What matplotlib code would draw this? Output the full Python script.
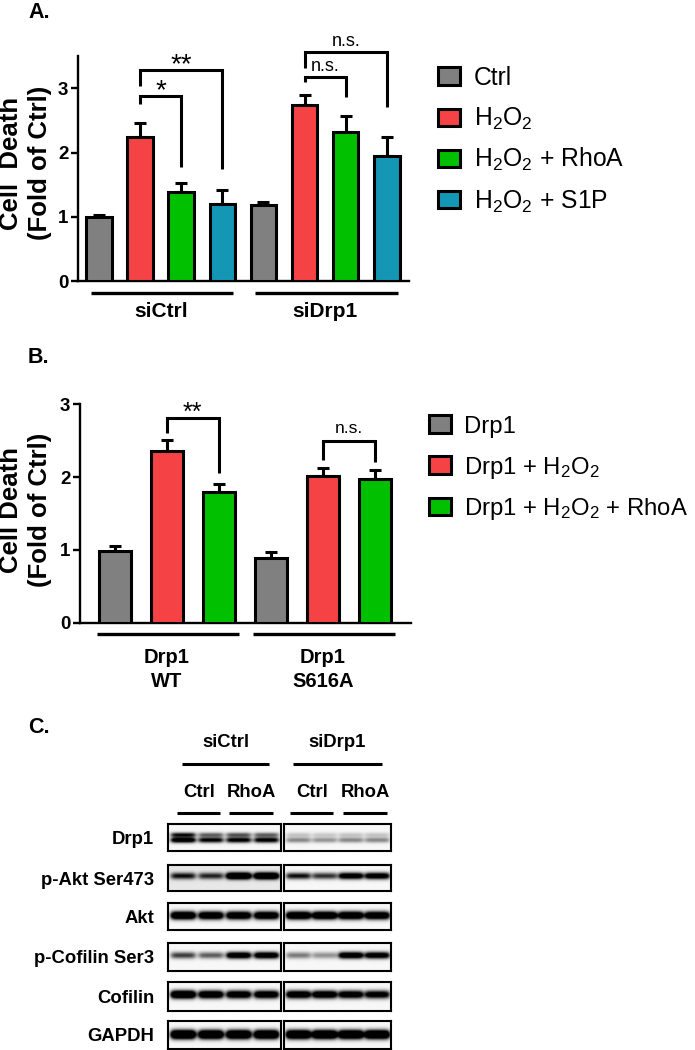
import numpy as np
import matplotlib
matplotlib.use('Agg')
import matplotlib.pyplot as plt
from matplotlib.patches import Rectangle
from matplotlib.transforms import blended_transform_factory

plt.rcParams['font.family'] = ['Liberation Sans', 'DejaVu Sans']
plt.rcParams['mathtext.default'] = 'regular'

# ---------------- data ----------------
a_conditions = ['Ctrl', 'H$_2$O$_2$', 'H$_2$O$_2$ + RhoA', 'H$_2$O$_2$ + S1P']
a_groups = ['siCtrl', 'siDrp1']
a_means = [[0.99, 2.24, 1.39, 1.20], [1.18, 2.74, 2.32, 1.94]]
a_sem = [[0.04, 0.22, 0.14, 0.21], [0.05, 0.16, 0.25, 0.30]]
# (bar i, bar j, bracket top, left leg end, right leg end, label)
a_brackets = [(1, 2, 2.88, 2.76, 1.77, '*'),
              (1, 3, 3.29, 3.04, 1.75, '**'),
              (5, 6, 3.17, 3.10, 2.87, 'n.s.'),
              (5, 7, 3.56, 3.31, 2.71, 'n.s.')]

b_conditions = ['Drp1', 'Drp1 + H$_2$O$_2$', 'Drp1 + H$_2$O$_2$ + RhoA']
b_groups = [('Drp1', 'WT'), ('Drp1', 'S616A')]
b_means = [[0.99, 2.36, 1.79], [0.89, 2.02, 1.98]]
b_sem = [[0.07, 0.15, 0.12], [0.08, 0.11, 0.12]]
b_brackets = [(1, 2, 2.81, 2.60, 2.06, '**'),
              (4, 5, 2.49, 2.23, 2.21, 'n.s.')]

yticks = [0, 1, 2, 3]

c_groups = ['siCtrl', 'siDrp1']
c_treatments = ['Ctrl', 'RhoA', 'Ctrl', 'RhoA']
c_rows = ['Drp1', 'p-Akt Ser473', 'Akt', 'p-Cofilin Ser3', 'Cofilin', 'GAPDH']
# band intensities, 8 lanes (4 siCtrl, 4 siDrp1)
band_drp1_lower = [1.30, 1.05, 1.10, 1.10, 0.45, 0.40, 0.45, 0.45]
band_drp1_upper = [0.95, 0.60, 0.65, 0.60, 0.20, 0.18, 0.20, 0.20]
band_pakt = [0.90, 0.80, 1.80, 1.80, 0.95, 0.80, 1.30, 1.30]
band_akt = [1.70, 1.55, 1.55, 1.55, 1.65, 1.65, 1.60, 1.55]
band_pcof = [0.75, 0.62, 1.40, 1.40, 0.50, 0.40, 1.40, 1.30]
band_cof = [1.80, 1.55, 1.45, 1.45, 1.45, 1.45, 1.35, 1.25]
band_gapdh = [2.00, 1.90, 1.90, 1.90, 1.90, 1.90, 1.90, 1.90]

colors = ['#808080', '#F44245', '#00C000', '#1397B5']

# ---------------- figure ----------------
W, H = 695, 1050
fig = plt.figure(figsize=(W / 100, H / 100), dpi=100)


def px_axes(left, top, right, bottom, **kw):
    return fig.add_axes([left / W, 1 - bottom / H, (right - left) / W, (bottom - top) / H], **kw)


ov = px_axes(0, 0, W, H)
ov.set_xlim(0, W)
ov.set_ylim(H, 0)
ov.axis('off')

LW = 2.2


def bar_panel(ax, means, sems, ncol, brackets, xlim, ylim, star_fs, ns_fs, ns_off):
    vals = [v for g in means for v in g]
    errs = [v for g in sems for v in g]
    cols = [colors[k % ncol] for k in range(len(vals))]
    x = np.arange(len(vals))
    ax.errorbar(x, vals, yerr=[np.zeros(len(vals)), errs], fmt='none', ecolor='black',
                elinewidth=LW, capsize=4.3, capthick=LW, zorder=2)
    ax.bar(x, vals, width=0.62, color=cols, edgecolor='black', linewidth=LW, zorder=3)
    ax.set_xlim(*xlim)
    ax.set_ylim(*ylim)
    for s in ['top', 'right']:
        ax.spines[s].set_visible(False)
    for s in ['left', 'bottom']:
        ax.spines[s].set_linewidth(1.7)
    ax.set_xticks([])
    ax.set_yticks(yticks)
    ax.tick_params(axis='y', length=5, width=1.7, pad=2, labelsize=13.5)
    for lab in ax.get_yticklabels():
        lab.set_fontweight('bold')
    for (i, j, top, yi, yj, lab) in brackets:
        ax.plot([i, i, j, j], [yi, top, top, yj], color='black', lw=LW,
                clip_on=False, solid_capstyle='butt', solid_joinstyle='miter', zorder=4)
        if '*' in lab:
            ax.annotate(lab, xy=((i + j) / 2, top), xytext=(0, -1.5), textcoords='offset points',
                        ha='center', va='baseline', fontsize=star_fs, annotation_clip=False)
        else:
            ax.annotate(lab, xy=((i + j) / 2, top), xytext=(0, ns_off), textcoords='offset points',
                        ha='center', va='baseline', fontsize=ns_fs, annotation_clip=False)
    return x


# ---------- Panel A ----------
A_left, A_right, A_bottom, A_top = 78, 409, 281, 56.3
axA = px_axes(A_left, A_top, A_right, A_bottom)
xA = bar_panel(axA, a_means, a_sem, 4, a_brackets, (-0.51, 7.54), (0, 3.5), 20, 13, 4.5)
trA = blended_transform_factory(axA.transData, axA.transAxes)
hA = A_bottom - A_top
for g, name in enumerate(a_groups):
    i0, i1 = g * 4, g * 4 + 3
    axA.plot([i0 - 0.2, i1 + 0.27], [(A_bottom - 293.3) / hA] * 2, color='black', lw=2.4,
             transform=trA, clip_on=False, solid_capstyle='butt')
    axA.text((i0 + i1) / 2, (A_bottom - 317.3) / hA, name, transform=trA, ha='center',
             va='baseline', fontsize=15, fontweight='bold')

# ---------- Panel B ----------
B_left, B_right, B_bottom, B_top = 80, 410.7, 622.7, 404.3
axB = px_axes(B_left, B_top, B_right, B_bottom)
xB = bar_panel(axB, b_means, b_sem, 3, b_brackets, (-0.67, 5.69), (0, 3), 18, 12.5, 6)
trB = blended_transform_factory(axB.transData, axB.transAxes)
hB = B_bottom - B_top
for g, (l1, l2) in enumerate(b_groups):
    i0, i1 = g * 3, g * 3 + 2
    axB.plot([i0 - 0.35, i1 + 0.38], [(B_bottom - 634.3) / hB] * 2, color='black', lw=2.4,
             transform=trB, clip_on=False, solid_capstyle='butt')
    axB.text((i0 + i1) / 2, (B_bottom - 663) / hB, l1, transform=trB, ha='center',
             va='baseline', fontsize=14.5, fontweight='bold')
    axB.text((i0 + i1) / 2, (B_bottom - 687) / hB, l2, transform=trB, ha='center',
             va='baseline', fontsize=14.5, fontweight='bold')

# ---------- y labels ----------
for yc, l1 in [(163, 'Cell  Death'), (510, 'Cell Death')]:
    ov.text(18.5, yc, l1, rotation=90, rotation_mode='anchor', ha='center', va='baseline',
            fontsize=18.5, fontweight='bold')
    ov.text(46.6, yc, '(Fold of Ctrl)', rotation=90, rotation_mode='anchor', ha='center',
            va='baseline', fontsize=18.5, fontweight='bold')

# ---------- panel letters ----------
for lab, yb in [('A.', 18.3), ('B.', 363), ('C.', 733)]:
    ov.text(28, yb, lab, ha='left', va='baseline', fontsize=15.5, fontweight='bold')


# ---------- legends ----------
def legend(names, ncol_colors, sq_x, txt_x, base0, step, fs):
    for k, name in enumerate(names):
        yb = base0 + step * k
        ov.add_patch(Rectangle((sq_x, yb - 17.5), 22, 17.5, facecolor=ncol_colors[k],
                               edgecolor='black', linewidth=2.2))
        ov.text(txt_x, yb, name, ha='left', va='baseline', fontsize=fs)


legend(a_conditions, colors, 438, 474, 84.8, 41.2, 17.8)
legend(b_conditions, colors, 429, 464, 432.7, 41.2, 17.2)

# ---------- Panel C: headers ----------
group_spans = [(181.7, 269.3), (293, 381.7)]
for name, (x0, x1) in zip(c_groups, group_spans):
    ov.plot([x0, x1], [764, 764], color='black', lw=2.2, solid_capstyle='butt')
    ov.text((x0 + x1) / 2, 747.3, name, ha='center', va='baseline', fontsize=13.3, fontweight='bold')
sub_spans = [(176.7, 220), (229, 273), (290, 333), (343, 387)]
for name, (x0, x1) in zip(c_treatments, sub_spans):
    ov.plot([x0, x1], [813.3, 813.3], color='black', lw=2.2, solid_capstyle='butt')
    ov.text((x0 + x1) / 2 + 0.5, 796.7, name, ha='center', va='baseline', fontsize=13.3,
            fontweight='bold')

# ---------- Panel C: blots ----------
row_tops = [824.3, 865, 902.7, 942.7, 981.7, 1020.7]
row_heights = [26.7, 26.0, 27.3, 28.0, 29.3, 28.3]
row_bandpos = [None, 0.42, 0.48, 0.44, 0.45, 0.50]
row_sigma = [2.3, 3.3, 3.8, 3.3, 3.8, 4.2]
row_bands = [None, band_pakt, band_akt, band_pcof, band_cof, band_gapdh]
box_x = [(168.3, 281), (284.3, 391)]
lane_frac = [0.135, 0.38, 0.625, 0.87]


def blot_img(wpx, hpx, bands, bg, scale=4):
    nx, ny = int(wpx * scale), int(hpx * scale)
    xx = (np.arange(nx) + 0.5) / scale
    yy = (np.arange(ny) + 0.5) / scale
    img = np.full((ny, nx), bg)
    for (cx, cy, inten, sig) in bands:
        hprof = 1 / (1 + np.exp((np.abs(xx - cx) - 11.8) / 1.4))
        vprof = np.exp(-((yy - cy) / sig) ** 2)
        img += inten * np.outer(vprof, hprof)
    return np.clip(img, 0, 1)


for r, name in enumerate(c_rows):
    top, h = row_tops[r], row_heights[r]
    ov.text(154, top + h / 2 + 6.6, name, ha='right', va='baseline', fontsize=13.3,
            fontweight='bold')
    for b, (x0, x1) in enumerate(box_x):
        wpx = x1 - x0
        bands = []
        for k in range(4):
            lane = b * 4 + k
            cx = lane_frac[k] * wpx
            if r == 0:
                bands.append((cx, 0.40 * h, band_drp1_upper[lane], row_sigma[0]))
                bands.append((cx, 0.59 * h, band_drp1_lower[lane], row_sigma[0] * 1.15))
            else:
                bands.append((cx, row_bandpos[r] * h, row_bands[r][lane], row_sigma[r]))
        bg = 0.09 if (r == 1 and b == 0) else 0.03
        img = blot_img(wpx, h, bands, bg)
        axb = px_axes(x0, top, x1, top + h)
        axb.imshow(img, cmap='gray_r', vmin=0, vmax=1, extent=[0, wpx, h, 0], aspect='auto',
                   interpolation='bilinear')
        axb.set_xticks([])
        axb.set_yticks([])
        for s in axb.spines.values():
            s.set_linewidth(1.5)

fig.savefig('out.png', dpi=100)
